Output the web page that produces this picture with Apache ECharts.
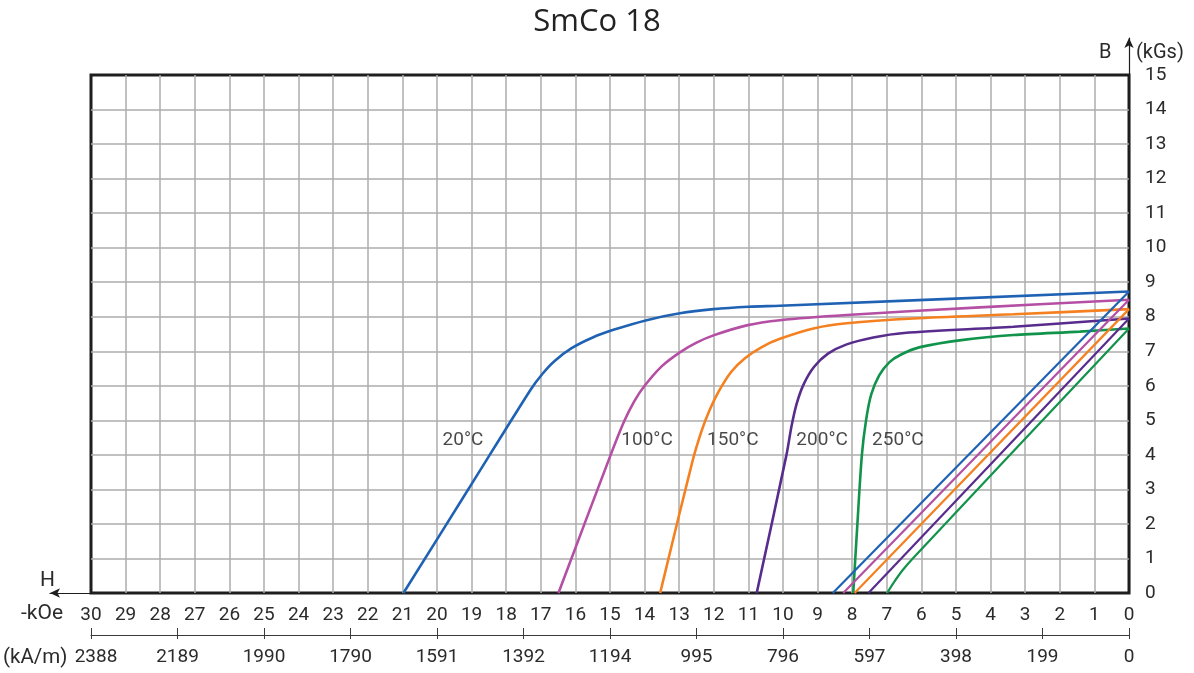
<!DOCTYPE html>
<html>
<head>
<meta charset="utf-8">
<title>SmCo 18</title>
<script src="https://cdn.jsdelivr.net/npm/echarts@6/dist/echarts.min.js"></script>
<style>
  html, body { margin: 0; padding: 0; background: #fff; }
  #chart { width: 1194px; height: 673px; }
</style>
</head>
<body>
<div id="chart"></div>
<script>
// Demagnetisation curves of SmCo 18: field H (kOe, plotted to the left) vs induction B (kGs)

// Intrinsic curves, [H kOe, B kGs]
const curve20 = [[20.97, 0], [19.09, 3.01], [17.3, 5.88], [16.95, 6.35], [16.6, 6.72], [16.11, 7.09], [15.5, 7.4], [14.9, 7.62], [13.94, 7.9], [12.98, 8.1], [12.01, 8.22], [11.0, 8.29], [10.09, 8.32], [0, 8.73]];
const curve100 = [[16.49, 0], [15.0, 3.95], [14.6, 4.95], [14.3, 5.55], [14.0, 6.0], [13.5, 6.57], [12.98, 6.97], [12.5, 7.25], [12.01, 7.46], [11.05, 7.75], [10.09, 7.9], [8.16, 8.05], [4.31, 8.27], [0, 8.49]];
const curve150 = [[13.55, 0], [12.62, 3.8], [12.35, 4.7], [12.12, 5.3], [11.85, 5.85], [11.5, 6.4], [11.1, 6.8], [10.6, 7.13], [10.09, 7.36], [9.12, 7.66], [8.16, 7.81], [6.23, 7.95], [3.34, 8.07], [0, 8.22]];
const curve200 = [[10.76, 0], [9.9, 4.0], [9.75, 4.85], [9.6, 5.5], [9.4, 6.05], [9.1, 6.55], [8.7, 6.93], [8.16, 7.2], [7.39, 7.4], [6.5, 7.53], [3.34, 7.71], [0, 7.95]];
const curve250 = [[7.97, 0], [7.85, 2], [7.72, 4], [7.6, 5], [7.45, 5.75], [7.22, 6.3], [6.93, 6.68], [6.6, 6.9], [6.04, 7.12], [4.79, 7.33], [3.34, 7.47], [1.42, 7.57], [0, 7.66]];

// Normal (B) lines, [H kOe, B kGs]
const normal20 = [[8.56, 0], [0, 8.73]];
const normal100 = [[8.26, 0], [0, 8.49]];
const normal150 = [[7.93, 0], [0, 8.22]];
const normal200 = [[7.53, 0], [0, 7.95]];
const normal250 = [[6.99, 0], [6.8, 0.3], [6.55, 0.65], [6.25, 1.0], [0, 7.66]];

// Temperature captions and where they sit, [H kOe, B kGs]
const tempNames = ['20°C', '100°C', '150°C', '200°C', '250°C'];
const tempAnchors = [[19.25, 4.43], [13.93, 4.43], [11.45, 4.43], [8.87, 4.43], [6.68, 4.43]];

// Tick labels
const koeTicks = ['0', '1', '2', '3', '4', '5', '6', '7', '8', '9', '10', '11', '12', '13', '14', '15', '16', '17', '18', '19', '20', '21', '22', '23', '24', '25', '26', '27', '28', '29', '30'];
const kamTicks = ['0', '199', '398', '597', '796', '995', '1194', '1392', '1591', '1790', '1990', '2189', '2388'];
const bTicks = ['0', '1', '2', '3', '4', '5', '6', '7', '8', '9', '10', '11', '12', '13', '14', '15'];

const colors = ['#1f62b3', '#b44fa3', '#f5801f', '#582c8c', '#11934b'];
const intrinsic = [curve20, curve100, curve150, curve200, curve250];
const normals = [normal20, normal100, normal150, normal200, normal250];

const FONT = 'Roboto';
const tickText = { fontFamily: FONT, fontWeight: 'normal', fontSize: 19, color: '#2b2b2b' };

const series = [];
intrinsic.forEach((d, i) => {
  series.push({
    type: 'line', xAxisIndex: 0, yAxisIndex: 0, data: d,
    smooth: 0.3, showSymbol: false, symbol: 'none',
    lineStyle: { color: colors[i], width: 2.6 }, z: 5
  });
});
normals.forEach((d, i) => {
  series.push({
    type: 'line', xAxisIndex: 0, yAxisIndex: 0, data: d,
    smooth: i === 4 ? 0.3 : false, showSymbol: false, symbol: 'none',
    lineStyle: { color: colors[i], width: 2.2 }, z: 5
  });
});
series.push({
  type: 'scatter', xAxisIndex: 0, yAxisIndex: 0, symbolSize: 0,
  data: tempAnchors.map((p, i) => ({ value: p, name: tempNames[i] })),
  label: {
    show: true, position: 'inside', formatter: p => p.name,
    fontFamily: FONT, fontWeight: 'normal', fontSize: 19, color: '#1a1a1a'
  },
  silent: true, z: 6
});

const split = { show: true, showMinLine: false, showMaxLine: false, lineStyle: { color: '#adadad', width: 1.5 } };

// the leftmost kA/m label sits a little right of its tick, clear of the unit caption
const kamFormatter = v => {
  const i = Math.round(v / 2.5);
  return i === kamTicks.length - 1 ? '{edge|' + kamTicks[i] + '}' : kamTicks[i];
};

const chart = echarts.init(document.getElementById('chart'), null, { renderer: 'canvas' });
chart.setOption({
  animation: false,
  backgroundColor: '#ffffff',
  title: [
    { text: 'SmCo 18', left: 'center', top: 7, padding: 0,
      textStyle: { fontFamily: 'Open Sans', fontSize: 31, fontWeight: 'normal', color: '#222' } },
    { text: 'B', left: 1099, top: 43, padding: 0, textStyle: Object.assign({}, tickText, { fontSize: 20 }) },
    { text: '(kGs)', left: 1136, top: 43, padding: 0, textStyle: Object.assign({}, tickText, { fontSize: 20 }) },
    { text: 'H', left: 40, top: 570, padding: 0, textStyle: Object.assign({}, tickText, { fontSize: 21 }) },
    { text: '-kOe', left: 21, top: 603, padding: 0, textStyle: Object.assign({}, tickText, { fontSize: 21 }) },
    { text: '(kA/m)', left: 3, top: 647, padding: 0, textStyle: Object.assign({}, tickText, { fontSize: 20.5 }) }
  ],
  grid: [
    { left: 91, right: 65, top: 75, bottom: 80, show: true, borderColor: '#1e1e1e', borderWidth: 3 },
    { left: 91, right: 65, top: 38, bottom: 80 },
    { left: 50, right: 65, top: 75, bottom: 80 }
  ],
  xAxis: [
    { // kOe scale
      type: 'value', gridIndex: 0, min: 0, max: 30, interval: 1, inverse: true, position: 'bottom',
      axisLine: { show: false }, axisTick: { show: false },
      axisLabel: Object.assign({ margin: 13, formatter: v => koeTicks[Math.round(v)] }, tickText),
      splitLine: split
    },
    { // kA/m scale with its own line
      type: 'value', gridIndex: 0, min: 0, max: 30, interval: 2.5, inverse: true, position: 'bottom', offset: 42,
      axisLine: { show: true, onZero: false, lineStyle: { color: '#3a3a3a', width: 1 } },
      axisTick: { show: true, length: 4, lineStyle: { color: '#3a3a3a', width: 1 } },
      axisLabel: Object.assign({
        margin: 13, formatter: kamFormatter,
        rich: { edge: { fontFamily: FONT, fontSize: 19, color: '#2b2b2b', padding: [0, 0, 0, 10] } }
      }, tickText),
      splitLine: { show: false }
    },
    { // upper half of the kA/m ticks
      type: 'value', gridIndex: 0, min: 0, max: 30, interval: 2.5, inverse: true, position: 'bottom', offset: 42,
      axisLine: { show: false, onZero: false },
      axisTick: { show: true, inside: true, length: 7, lineStyle: { color: '#3a3a3a', width: 1 } },
      axisLabel: { show: false }, splitLine: { show: false }
    },
    { type: 'value', gridIndex: 1, show: false, min: 0, max: 30 },
    { // H arrow
      type: 'value', gridIndex: 2, min: 0, max: 30, position: 'bottom',
      axisLine: { show: true, onZero: false, symbol: ['arrow', 'none'], symbolSize: [7, 10], lineStyle: { color: '#1e1e1e', width: 1.2 } },
      axisTick: { show: false }, axisLabel: { show: false }, splitLine: { show: false }
    }
  ],
  yAxis: [
    { // B scale
      type: 'value', gridIndex: 0, min: 0, max: 15, interval: 1, position: 'right',
      axisLine: { show: false, onZero: false }, axisTick: { show: false },
      axisLabel: Object.assign({ margin: 16, formatter: v => bTicks[Math.round(v)] }, tickText),
      splitLine: split
    },
    { // B arrow
      type: 'value', gridIndex: 1, min: 0, max: 15, position: 'right',
      axisLine: { show: true, onZero: false, symbol: ['none', 'arrow'], symbolSize: [7, 10], lineStyle: { color: '#1e1e1e', width: 1.2 } },
      axisTick: { show: false }, axisLabel: { show: false }, splitLine: { show: false }
    },
    { type: 'value', gridIndex: 2, show: false, min: 0, max: 15 }
  ],
  series: series
});
</script>
</body>
</html>
